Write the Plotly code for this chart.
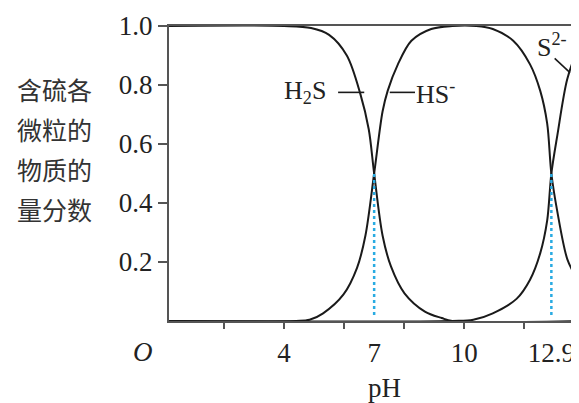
import plotly.graph_objects as go

# values
ph_h2s = [0, 4.0, 4.9, 5.5, 6.09, 6.54, 6.82, 7.0, 7.28, 7.56, 8.01, 8.69, 9.25, 9.6, 14]
frac_h2s = [1, 1, 0.993, 0.97, 0.9, 0.77, 0.65, 0.5, 0.29, 0.185, 0.094, 0.032, 0.01, 0.0, 0]

ph_hs = [0, 4.4, 4.85, 5.3, 5.98, 6.43, 6.71, 7.0, 7.28, 7.45, 7.79, 8.24, 8.9, 9.6, 10.4,
         10.95, 11.63, 12.19, 12.53, 12.76, 12.9, 13.1, 13.43, 13.72, 14]
frac_hs = [0, 0, 0.004, 0.026, 0.09, 0.18, 0.29, 0.5, 0.71, 0.78, 0.87, 0.95, 0.99, 1.0, 1.0,
           0.99, 0.95, 0.87, 0.78, 0.67, 0.5, 0.37, 0.21, 0.15, 0.11]

ph_s = [0, 9.6, 10.3, 10.95, 11.74, 12.19, 12.53, 12.76, 12.9, 13.1, 13.43, 13.72, 14]
frac_s = [0, 0, 0.004, 0.026, 0.075, 0.14, 0.23, 0.34, 0.5, 0.63, 0.82, 0.9, 0.93]

pka = [7, 12.9]
x_ticks = [2, 4, 6, 8, 10, 12]
x_labels = ['4', '7', '10', '12.9']
x_label_vals = [4, 7, 10, 12.9]
y_ticks = [0.2, 0.4, 0.6, 0.8, 1.0]
y_labels = ['0.2', '0.4', '0.6', '0.8', '1.0']
y_title = ['含硫各', '微粒的', '物质的', '量分数']

serif = 'Liberation Serif'
ink = '#222222'
frame = '#555555'

# plot area in page pixels: x 169..577, y 26..321 (page body adds 8px offset)
def px_x(p):
    return (p - 169) / 408

def px_y(p):
    return (321 - p) / 295

fig = go.Figure()
for xs, ys in [(ph_h2s, frac_h2s), (ph_hs, frac_hs), (ph_s, frac_s)]:
    fig.add_trace(go.Scatter(x=xs, y=ys, mode='lines',
                             line=dict(color='#1a1a1a', width=2, shape='spline', smoothing=0.9)))
for p in pka:
    fig.add_trace(go.Scatter(x=[p, p], y=[0.02, 0.5], mode='lines',
                             line=dict(color='#29abe2', width=2.5, dash='dot')))

# invisible trace on the tick-only axis
fig.add_trace(go.Scatter(x=[1], y=[0], xaxis='x2', mode='markers', marker=dict(opacity=0)))

# leader lines for the species labels
leaders = [((5.80, 0.775), (6.67, 0.775)), ((7.52, 0.775), (8.36, 0.775)),
           ((13.01, 0.89), (13.52, 0.842))]
for (x0, y0), (x1, y1) in leaders:
    fig.add_shape(type='line', x0=x0, y0=y0, x1=x1, y1=y1, xref='x', yref='y',
                  line=dict(color='#1a1a1a', width=1.6))

fig.add_annotation(x=5.45, y=0.775, text='H<sub>2</sub>S', xanchor='right', yanchor='middle',
                   showarrow=False, font=dict(family=serif, size=26, color=ink))
fig.add_annotation(x=8.34, y=0.775, text='HS<sup>-</sup>', xanchor='left', yanchor='middle',
                   showarrow=False, font=dict(family=serif, size=26, color=ink))
fig.add_annotation(x=12.35, y=0.935, text='S<sup>2-</sup>', xanchor='left', yanchor='middle',
                   showarrow=False, font=dict(family=serif, size=26, color=ink))

for i, t in enumerate(y_title):
    fig.add_annotation(x=px_x(56), y=px_y(89 + 40 * i), xref='paper', yref='paper', text=t,
                       xanchor='center', yanchor='middle', showarrow=False,
                       font=dict(family='Noto Sans CJK SC', size=25, color='#333333'))

fig.add_annotation(x=px_x(143), y=px_y(352), xref='paper', yref='paper', text='<i>O</i>',
                   xanchor='center', yanchor='middle', showarrow=False,
                   font=dict(family=serif, size=27, color=ink))
fig.add_annotation(x=px_x(382), y=px_y(388), xref='paper', yref='paper', text='pH',
                   xanchor='center', yanchor='middle', showarrow=False,
                   font=dict(family=serif, size=27, color=ink))

fig.update_layout(
    width=579, height=403,
    margin=dict(l=161, r=5, t=18, b=90),
    plot_bgcolor='white', paper_bgcolor='white',
    showlegend=False,
    xaxis=dict(range=[0.17, 13.92], tickvals=x_label_vals, ticktext=x_labels, ticks='outside',
               ticklen=7, tickcolor='rgba(0,0,0,0)', showgrid=False, zeroline=False,
               showline=True, linecolor=frame, linewidth=2, mirror=True, automargin=False,
               tickfont=dict(family=serif, size=27, color=ink)),
    xaxis2=dict(range=[0.17, 13.92], overlaying='x', side='bottom', tickvals=x_ticks,
                showticklabels=False, ticks='outside', ticklen=7, tickwidth=2, automargin=False,
                tickcolor=frame, showgrid=False, zeroline=False, showline=False),
    yaxis=dict(range=[0, 1], tickvals=y_ticks, ticktext=y_labels,
               ticks='outside', ticklen=9, tickwidth=2, tickcolor=frame, showgrid=False,
               zeroline=False, showline=True, linecolor=frame, linewidth=2, mirror=True,
               automargin=False, tickfont=dict(family=serif, size=27, color=ink)),
)

fig.write_html("out.html")
